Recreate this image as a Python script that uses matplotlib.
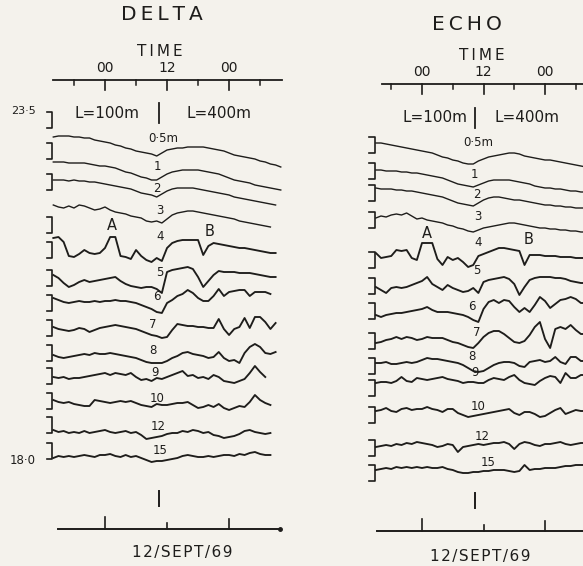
import numpy as np
import matplotlib.pyplot as plt

nan = np.nan

# hourly sample times, hours from 00h on 12 Sept
t_delta = np.arange(-10, 35)
t_echo = np.arange(-9, 33)

depths = ['0·5m', '1', '2', '3', '4', '5', '6', '7', '8', '9', '10', '12', '15']

# DELTA records (deflection of each trace, positive = warmer)
delta_05 = [0, 1, 1, 1, 0, 0, -1, -1, -3, -4, -5, -6, -8, -9, -11, -12, -14, -15, -16, -17,
            -19, -16, -13, -12, -11, -11, -10, -10, -10, -10, -11, -12, -13, -14, -16, -18, -19, -20, -21, -22,
            -24, -25, -27, -28, -30]
delta_1 = [0, 0, 0, -1, -1, -1, -1, -2, -3, -4, -4, -5, -6, -8, -10, -11, -13, -15, -16, -18,
           -18, -15, -12, -10, -9, -8, -8, -8, -8, -9, -10, -11, -12, -14, -16, -18, -19, -20, -21, -23,
           -24, -25, -26, -27, -28]
delta_2 = [0, 0, 0, -1, 0, -1, -1, -2, -2, -3, -4, -5, -6, -7, -8, -9, -11, -13, -14, -15,
           -17, -14, -11, -9, -8, -8, -8, -8, -9, -10, -11, -12, -13, -14, -15, -17, -18, -19, -20, -21,
           -22, -23, -24, -25, nan]
delta_3 = [0, -2, -3, -1, -3, 0, -1, -3, -5, -4, -2, -5, -7, -8, -9, -11, -12, -13, -16, -17,
           -16, -18, -14, -10, -8, -7, -6, -6, -7, -8, -9, -10, -11, -12, -13, -14, -16, -17, -18, -19,
           -20, -21, -22, nan, nan]
delta_4 = [0, 1, -4, -18, -19, -16, -12, -15, -16, -15, -10, 1, 1, -18, -19, -21, -12, -18, -22, -24,
           -20, -23, -10, -5, -3, -2, -2, -2, -2, -17, -8, -5, -6, -7, -8, -9, -10, -10, -11, -12,
           -13, -14, -15, -15, nan]
delta_5 = [0, -3, -8, -12, -10, -7, -5, -7, -6, -5, -4, -3, -2, -6, -9, -11, -12, -13, -12, -12,
           -14, -18, 3, 5, 6, 7, 8, 6, -2, -12, -6, 0, 4, 3, 3, 3, 2, 2, 2, 1,
           0, -1, -2, -2, nan]
delta_6 = [0, -2, -4, -5, -4, -3, -4, -4, -3, -4, -3, -3, -2, -3, -3, -4, -5, -7, -9, -11,
           -14, -15, -5, -2, 2, 4, 8, 5, 0, -3, -3, 2, 9, 2, 6, 7, 8, 8, 2, 6,
           6, 6, 4, nan, nan]
delta_7 = [0, -2, -3, -4, -3, -1, -2, -5, -3, -1, 0, 1, 2, 1, 0, -1, -2, -4, -6, -8,
           -9, -11, -10, -3, 3, 2, 1, 1, 0, 0, -1, -1, 8, -2, -8, -2, 0, 9, -1, 10,
           10, 5, -2, 4, nan]
delta_8 = [0, -2, -3, -2, -1, 0, 1, 0, 2, 1, 1, 2, 1, 0, -1, -2, -3, -5, -7, -8,
           -8, -8, -6, -3, -1, 2, 3, 1, 0, -1, -3, -2, 3, -3, -6, -5, -8, 2, 8, 11,
           8, 2, 1, 3, nan]
delta_9 = [0, -1, 0, -2, -1, -1, 0, 1, 2, 3, 4, 2, 4, 3, 2, 4, 0, -3, -2, -4,
           -1, -2, 0, 2, 4, 6, 1, 2, -1, 0, -2, 2, 0, -4, -5, -6, -4, -2, 4, 11,
           5, 0, nan, nan, nan]
delta_10 = [0, -2, -3, -2, -4, -5, -6, -6, 0, -1, -2, -3, -2, -1, -2, -1, -3, -5, -6, -7,
            -4, -5, -5, -4, -3, -3, -2, -5, -8, -7, -5, -7, -4, -8, -10, -8, -6, -7, -2, 5,
            0, -3, -5, nan, nan]
delta_12 = [0, -2, -1, -3, -2, -3, -1, -3, -2, -1, 0, -2, -3, -2, -1, -3, -2, -5, -9, -8,
            -7, -6, -4, -3, -3, -1, -2, 0, -1, -3, -2, -5, -6, -8, -7, -6, -4, -1, 0, -2,
            -3, -4, -3, nan, nan]
delta_15 = [0, 2, 1, 2, 1, 2, 3, 2, 1, 3, 3, 4, 2, 1, 3, 1, 2, 0, -2, -4,
            -3, -3, -2, -1, 0, 2, 3, 2, 1, 1, 2, 1, 2, 3, 3, 2, 4, 3, 5, 6,
            4, 3, 3, nan, nan]

# ECHO records
echo_05 = [0, 0, -1, -2, -3, -4, -5, -6, -7, -8, -9, -10, -12, -14, -15, -17, -18, -20, -21,
           -21, -18, -16, -14, -13, -12, -11, -10, -10, -11, -13, -14, -15, -16, -17, -17, -18, -19, -20, -21,
           -22, -23, -24]
echo_1 = [0, 0, -1, -1, -1, -2, -2, -3, -3, -4, -5, -6, -7, -8, -10, -12, -14, -15, -16,
          -17, -15, -13, -11, -10, -10, -10, -10, -11, -12, -13, -14, -16, -17, -18, -18, -19, -19, -20, -21,
          -21, -22, -22]
echo_2 = [0, -1, -1, -1, -2, -2, -3, -3, -4, -5, -6, -7, -8, -9, -11, -13, -15, -16, -17,
          -18, -15, -12, -10, -9, -9, -10, -11, -12, -12, -13, -14, -15, -16, -17, -17, -18, -18, -19, -19,
          -20, -20, -20]
echo_3 = [0, 2, 1, 3, 4, 3, 5, 2, -1, 0, -2, -3, -4, -5, -7, -8, -10, -11, -13,
          -14, -12, -10, -9, -8, -7, -6, -5, -5, -6, -7, -8, -9, -10, -10, -11, -11, -12, -12, -13,
          -13, -14, -14]
echo_4 = [0, -5, -4, -3, 3, 2, 3, -5, -7, 10, 10, 10, -6, -12, -4, -7, -5, -9, -14,
          -12, -3, -1, 1, 3, 5, 5, 4, 3, 2, -12, -2, -2, -2, -3, -3, -3, -4, -4, -4,
          -5, -5, -5]
echo_5 = [0, -3, -6, -1, 0, -1, 0, 2, 4, 6, 10, 3, 0, -3, 2, -1, -3, -5, -4,
          -1, -6, 5, 7, 8, 9, 10, 8, 3, -8, 0, 7, 9, 10, 10, 10, 9, 9, 8, 6,
          5, 4, 4]
echo_6 = [0, -2, 0, 1, 2, 2, 3, 4, 5, 6, 8, 5, 3, 3, 3, 2, 1, 0, -2,
          -5, -7, 6, 13, 15, 12, 15, 14, 8, 3, 7, 3, 10, 18, 14, 7, 11, 15, 16, 18,
          16, 12, 12]
echo_7 = [0, 1, 3, 4, 6, 4, 6, 5, 3, 4, 6, 5, 5, 5, 3, 1, 0, -2, -4,
          -5, 0, 6, 10, 12, 12, 9, 5, 1, 0, 2, 8, 16, 21, 4, -5, 14, 16, 14, 18,
          13, 9, 9]
echo_8 = [0, 0, 1, -1, -1, 0, 1, 0, 1, 3, 5, 4, 4, 3, 2, 1, 0, -2, -5,
          -8, -9, -8, -5, -2, 0, 1, 1, 0, -3, -4, 1, 2, 3, 1, 2, 6, 1, -1, 6,
          6, 2, 2]
echo_9 = [0, 1, 1, 0, 2, 6, 2, 1, 5, 4, 3, 4, 5, 6, 4, 3, 2, 0, 1,
          1, 0, 0, 3, 5, 4, 3, 6, 8, 3, 0, -1, -2, 2, 5, 7, 6, 0, 10, 5,
          5, 8, 8]
echo_10 = [0, 1, 3, 0, -1, 2, 3, 1, 2, 2, 4, 2, 1, -1, 2, 2, -2, -4, -6,
           -5, -4, -3, -2, -1, 0, 1, 2, -2, -4, -1, -1, -3, -6, -5, -2, 1, 3, -3, -1,
           1, 0, 0]
echo_12 = [0, 1, 2, 1, 3, 2, 4, 3, 5, 4, 3, 2, 0, 1, 3, 2, -5, 0, 1,
           2, 3, 2, 3, 4, 4, 5, 3, -2, 3, 5, 4, 2, 1, 3, 3, 4, 5, 3, 2,
           3, 4, 4]
echo_15 = [0, 1, 2, 1, 3, 2, 3, 2, 3, 2, 3, 2, 2, 3, 1, 0, -2, -3, -3,
           -2, -2, -1, -1, 0, 0, 0, -1, -2, -1, 5, 0, 1, 1, 2, 2, 2, 3, 4, 4,
           5, 5, 5]

delta_traces = [delta_05, delta_1, delta_2, delta_3, delta_4, delta_5, delta_6,
                delta_7, delta_8, delta_9, delta_10, delta_12, delta_15]
echo_traces = [echo_05, echo_1, echo_2, echo_3, echo_4, echo_5, echo_6,
               echo_7, echo_8, echo_9, echo_10, echo_12, echo_15]

# vertical placement of each record and of its scale bracket (chart units, down = larger)
delta_level = [137, 162, 180, 205, 238, 275, 298, 327, 355, 377, 400, 430, 458]
echo_level = [143, 170, 188, 218, 253, 287, 315, 343, 363, 383, 411, 447, 470]
delta_bracket = [112, 143, 174, 217, 242, 270, 295, 320, 345, 368, 393, 417, 443]
echo_bracket = [137, 163, 185, 212, 252, 278, 303, 333, 358, 380, 407, 440, 465]

# depth label positions (time, level)
delta_lab_t = [11.2, 10.1, 10.1, 10.6, 10.6, 10.6, 10.1, 9.3, 9.3, 9.7, 10.1, 10.3, 10.6]
delta_lab_y = [139, 167, 189, 210, 236, 272, 297, 325, 351, 373, 398, 427, 450]
echo_lab_t = [10.9, 10.3, 10.7, 10.9, 10.9, 10.7, 9.8, 10.7, 9.8, 10.3, 10.9, 11.7, 12.9]
echo_lab_y = [142, 175, 195, 217, 243, 271, 307, 332, 357, 373, 407, 437, 462]

major_hours = [0, 12, 24]
major_labels = ['00', '12', '00']
minor_hours = [-6, 6, 18, 30]
change_hour = 10.4   # L = 100 m -> 400 m

ink = '#1e1d1b'
paper = '#f4f2ec'


def spaced(s, gap='\u2009'):
    # open up the lettering a little
    return gap.join(s)


fig = plt.figure(figsize=(5.83, 5.66), dpi=100, facecolor=paper)

ax_d = fig.add_axes([0, 0, 300 / 583, 1])
ax_e = fig.add_axes([300 / 583, 0, 283 / 583, 1])
ax_d.set_xlim(-20.31, 37.72)
ax_e.set_xlim(-23.80, 31.41)
for ax in (ax_d, ax_e):
    ax.set_ylim(566, 0)
    ax.axis('off')
    ax.set_facecolor(paper)


def draw_station(ax, name, t, traces, level, bracket, lab_t, lab_y,
                 title_xy, time_y, axis_span, bottom_y, bottom_span, ab_pos, date_t, date_y,
                 l_y, l_t):
    # temperature records
    for i, tr in enumerate(traces):
        y = level[i] - np.array(tr, dtype=float)
        lw = 1.0 if i < 4 else 1.35
        ax.plot(t, y, color=ink, lw=lw, solid_joinstyle='round')
        ax.text(lab_t[i], lab_y[i], depths[i], fontsize=8.5, color=ink,
                ha='center', va='center')
    # scale brackets
    tv = t[0] - 0.2
    for b in bracket:
        ax.plot([tv - 1.1, tv, tv, tv - 1.1], [b, b, b + 16, b + 16],
                color=ink, lw=1.2)
    # title and time axis on top
    ax.text(title_xy[0], title_xy[1], spaced(name), fontsize=14.5, color=ink,
            ha='center', va='center')
    ax.text(title_xy[2], time_y - 16, spaced('TIME'), fontsize=11, color=ink,
            ha='center', va='center')
    ax.plot(axis_span, [time_y + 12, time_y + 12], color=ink, lw=1.3)
    for h, lab in zip(major_hours, major_labels):
        ax.plot([h, h], [time_y + 12, time_y + 22], color=ink, lw=1.2)
        ax.text(h, time_y, lab, fontsize=10, color=ink, ha='center', va='center')
    for h in minor_hours:
        ax.plot([h, h], [time_y + 12, time_y + 17], color=ink, lw=1.1)
    # cable length labels
    ax.text(l_t[0], l_y, 'L=100m', fontsize=11, color=ink, ha='center', va='center')
    ax.text(l_t[1], l_y, 'L=400m', fontsize=11, color=ink, ha='center', va='center')
    ax.plot([change_hour, change_hour], [l_y - 10, l_y + 10], color=ink, lw=1.3)
    # events A and B
    ax.text(ab_pos[0], ab_pos[1], 'A', fontsize=10.5, color=ink, ha='center', va='center')
    ax.text(ab_pos[2], ab_pos[3], 'B', fontsize=10.5, color=ink, ha='center', va='center')
    # date axis at the bottom
    ax.plot([change_hour, change_hour], [bottom_y - 38, bottom_y - 23], color=ink, lw=1.4)
    ax.plot(bottom_span, [bottom_y, bottom_y], color=ink, lw=1.4)
    ax.plot(bottom_span[1], bottom_y, 'o', color=ink, ms=2.5, clip_on=True)
    for h, ln in zip(major_hours, [12, 6, 10]):
        ax.plot([h, h], [bottom_y, bottom_y - ln], color=ink, lw=1.2)
    ax.text(date_t, date_y, spaced('12/SEPT/69', '\u200a'), fontsize=11, color=ink,
            ha='center', va='center')


draw_station(ax_d, 'DELTA', t_delta, delta_traces, delta_level, delta_bracket,
             delta_lab_t, delta_lab_y, (11.0, 15, 10.6), 68, [-10.1, 34.2],
             529, [-9.1, 33.8], (1.35, 225, 20.3, 231), 15.0, 553,
             113, (0.4, 22.1))
draw_station(ax_e, 'ECHO', t_echo, echo_traces, echo_level, echo_bracket,
             echo_lab_t, echo_lab_y, (8.8, 25, 11.7), 72, [-7.8, 33.0],
             531, [-8.8, 33.0], (1.0, 233, 20.7, 240), 11.3, 557,
             118, (2.6, 20.4))

# temperature scale of the DELTA records
ax_d.text(-15.7, 111, '23·5', fontsize=8, color=ink, ha='center', va='center')
ax_d.text(-15.9, 461, '18·0', fontsize=8.5, color=ink, ha='center', va='center')

fig.savefig('out.png', dpi=100, facecolor=paper)
